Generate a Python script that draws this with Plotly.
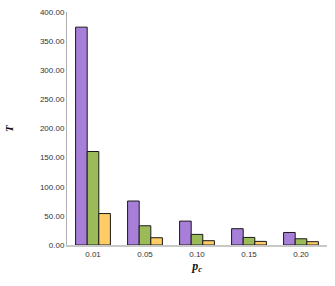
import plotly.graph_objects as go

categories = ["0.01", "0.05", "0.10", "0.15", "0.20"]
series_a = [374, 75.5, 41, 28, 21.5]
series_b = [160.5, 33, 18.2, 13, 10.7]
series_c = [54, 12.5, 7.4, 6.2, 5.7]
y_ticks = [0, 50, 100, 150, 200, 250, 300, 350, 400]

colors = ["#A77FD9", "#9BBB59", "#FFCC66"]

fig = go.Figure()
for vals, col in zip([series_a, series_b, series_c], colors):
    fig.add_trace(go.Bar(x=categories, y=vals, marker=dict(color=col, line=dict(color="#1a1a1a", width=1))))

fig.update_layout(
    width=335, height=286,
    margin=dict(l=57, r=8, t=10, b=41),
    paper_bgcolor="white", plot_bgcolor="white",
    barmode="group", bargap=0.33, bargroupgap=0,
    showlegend=False,
    font=dict(family="Liberation Sans, Arial", size=8, color="#333"),
)
fig.update_xaxes(
    type="category", showgrid=False, showline=True, linecolor="#c8c8c8", linewidth=2,
    ticks="", tickfont=dict(size=8),
    title=dict(text="<b><i>p</i></b><sub><b><i>c</i></b></sub>", font=dict(family="Liberation Serif, Times New Roman", size=12, color="#111"), standoff=3),
)
fig.update_yaxes(
    range=[0, 400], tickvals=y_ticks, tickformat=".2f", showgrid=False,
    showline=True, linecolor="#b0b0b0", linewidth=1, ticks="", zeroline=False,
    tickfont=dict(size=8),
    title=dict(text="<b><i>T</i></b>", font=dict(family="Liberation Serif, Times New Roman", size=11, color="#111"), standoff=24),
)

fig.write_html("out.html")
